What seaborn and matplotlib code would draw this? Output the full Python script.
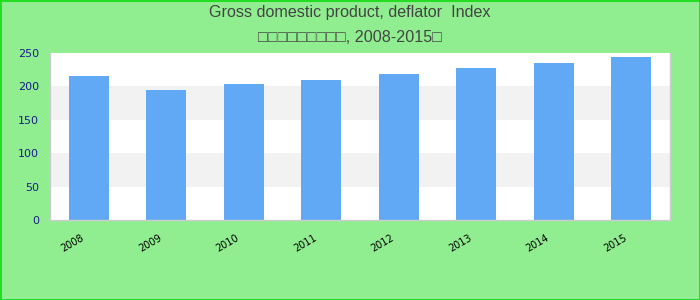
import matplotlib
matplotlib.use("Agg")
import matplotlib.pyplot as plt
import matplotlib.transforms as mtransforms
import seaborn as sns
import pandas as pd

years = ["2008", "2009", "2010", "2011", "2012", "2013", "2014", "2015"]
values = [216, 195, 204, 210, 219, 228, 235, 244]
title_line1 = "Gross domestic product, deflator  Index"
title_line2 = "□□□□□□□□□, 2008-2015□"

sns.set_theme(style="white")
plt.rcParams['font.family'] = ['Liberation Sans', 'DejaVu Sans']

df = pd.DataFrame({"year": years, "value": values})

fig = plt.figure(figsize=(7, 3), dpi=100)
fig.patch.set_facecolor("#90ee90")
fig.patch.set_edgecolor("#22dd22")
fig.patch.set_linewidth(2)

ax = fig.add_axes([50/700, 80/300, 620/700, 167/300])
ax.set_facecolor("white")
for lo, hi in [(50, 100), (150, 200)]:
    ax.axhspan(lo, hi, color="#f2f2f2", zorder=0, lw=0)

sns.barplot(data=df, x="year", y="value", color="#61a9f5", saturation=1,
            width=0.52, ax=ax, zorder=2, linewidth=0)

ax.set_ylim(0, 250)
ax.set_yticks([0, 50, 100, 150, 200, 250])
ax.set_xlabel("")
ax.set_ylabel("")
ax.tick_params(axis="y", labelsize=8, colors="#1c1c8a", length=0, pad=8)
ax.tick_params(axis="x", labelsize=7, colors="black", length=0, pad=9.4)
offset = mtransforms.ScaledTranslation(-8/100, 0, fig.dpi_scale_trans)
for lbl in ax.get_xticklabels():
    lbl.set_rotation(30)
    lbl.set_ha("right")
    lbl.set_va("top")
    lbl.set_rotation_mode("anchor")
    lbl.set_family(["DejaVu Sans"])
    lbl.set_transform(lbl.get_transform() + offset)
for lbl in ax.get_yticklabels():
    lbl.set_color("#1c1c8a")
    lbl.set_family(["DejaVu Sans"])

for side in ["left", "bottom", "right"]:
    ax.spines[side].set_visible(True)
    ax.spines[side].set_color("#cccccc")
    ax.spines[side].set_linewidth(1)
ax.spines["top"].set_visible(False)

fig.text(0.5, 1 - 13/300, title_line1, ha="center", va="center",
         fontsize=11.6, color="#444444", family=['Liberation Sans', 'DejaVu Sans'])
fig.text(0.5, 1 - 38/300, title_line2, ha="center", va="center",
         fontsize=11.6, color="#444444", family=['Liberation Sans', 'DejaVu Sans'])

fig.savefig("out.png", dpi=100, facecolor=fig.get_facecolor(),
            edgecolor=fig.get_edgecolor())
